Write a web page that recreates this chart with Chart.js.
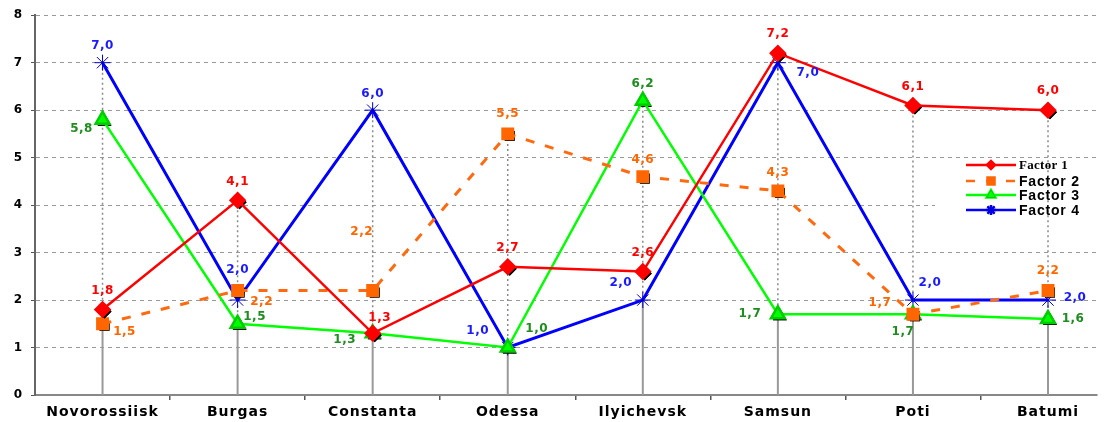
<!DOCTYPE html>
<html>
<head>
<meta charset="utf-8">
<script src="https://cdn.jsdelivr.net/npm/chart.js@4.4.1/dist/chart.umd.min.js"></script>
<style>
  body { margin: 0; background: #fff; }
  canvas { display: block; }
</style>
</head>
<body>
<canvas id="chart" width="1107" height="422"></canvas>
<script>
// datos
const categories = ["Novorossiisk", "Burgas", "Constanta", "Odessa", "Ilyichevsk", "Samsun", "Poti", "Batumi"];
const factor1 = [1.8, 4.1, 1.3, 2.7, 2.6, 7.2, 6.1, 6.0];
const factor2 = [1.5, 2.2, 2.2, 5.5, 4.6, 4.3, 1.7, 2.2];
const factor3 = [5.8, 1.5, 1.3, 1.0, 6.2, 1.7, 1.7, 1.6];
const factor4 = [7.0, 2.0, 6.0, 1.0, 2.0, 7.0, 2.0, 2.0];
const seriesNames = ["Factor 1", "Factor 2", "Factor 3", "Factor 4"];

// desplazamiento de cada etiqueta respecto a su punto (solo estilo)
const labelShift = [
  [[0,-19],[0,-18],[7,-15],[0,-19],[0,-19],[0,-19],[0,-19],[0,-19]],
  [[22,8],[24,11],[-11,-59],[0,-20],[0,-17],[0,-18],[-33,-11],[0,-20]],
  [[-21,9],[17,-7],[-28,7],[29,-19],[0,-17],[-28,0],[-10,18],[25,0]],
  [[0,-17],[0,-30],[0,-16],[-30,-17],[-22,-17],[30,10],[17,-17],[27,-2]]
];
const labelColors = ["#ff0000", "#ff6600", "#1e8c1e", "#1a1aff"];
const xMax = 7.359;
const boldFont = "'DejaVu Sans', Verdana, sans-serif";

const toPoints = arr => arr.map((v, i) => ({ x: i, y: v }));

// lineas verticales, caja de leyenda, sombras y etiquetas
const extras = {
  id: "extras",
  beforeDraw(chart) {
    chart.ctx.letterSpacing = "1px"; // texto del eje ancho como en el original
  },
  beforeDatasetsDraw(chart) {
    const ctx = chart.ctx;
    ctx.letterSpacing = "0px";
    const xs = chart.scales.x, ys = chart.scales.y;
    const all = [factor1, factor2, factor3, factor4];
    ctx.save();
    // fondo blanco de la leyenda
    ctx.fillStyle = "#fff";
    ctx.fillRect(935, 160, 172, 62);
    categories.forEach((c, i) => {
      const x = xs.getPixelForValue(i);
      const vals = all.map(a => a[i]);
      const top = Math.max(...vals), low = Math.min(...vals);
      ctx.strokeStyle = "#8a8a8a";
      ctx.lineWidth = 1.5;
      ctx.setLineDash([2, 3]);
      ctx.beginPath();
      ctx.moveTo(x, ys.getPixelForValue(top));
      ctx.lineTo(x, ys.getPixelForValue(low));
      ctx.stroke();
      ctx.setLineDash([]);
      ctx.strokeStyle = "#999";
      ctx.lineWidth = 2;
      ctx.beginPath();
      ctx.moveTo(x, ys.getPixelForValue(low));
      ctx.lineTo(x, ys.getPixelForValue(0));
      ctx.stroke();
    });
    ctx.restore();
  },
  beforeDatasetDraw(chart, args) {
    const ctx = chart.ctx;
    const ds = chart.data.datasets[args.index];
    if (args.index === 3) return;
    ctx.save();
    args.meta.data.forEach(p => {
      Chart.helpers.drawPoint(ctx, {
        pointStyle: ds.pointStyle, radius: ds.pointRadius, rotation: 0, borderWidth: 0
      }, p.x + 2, p.y + 2);
      ctx.fillStyle = "#000";
      ctx.fill();
    });
    ctx.restore();
  },
  afterDatasetsDraw(chart) {
    const ctx = chart.ctx;
    ctx.save();
    ctx.letterSpacing = "0.5px";
    ctx.font = "bold 12px " + boldFont;
    ctx.textAlign = "center";
    ctx.textBaseline = "middle";
    chart.data.datasets.forEach((ds, d) => {
      const meta = chart.getDatasetMeta(d);
      ctx.fillStyle = labelColors[d];
      meta.data.forEach((p, i) => {
        const s = labelShift[d][i];
        ctx.fillText(ds.data[i].y.toFixed(1).replace(".", ","), p.x + s[0], p.y + s[1]);
      });
    });
    // leyenda
    const rows = [165, 181, 195, 210];
    chart.data.datasets.forEach((ds, d) => {
      const y = rows[d];
      ctx.strokeStyle = ds.borderColor;
      ctx.lineWidth = 2.5;
      ctx.setLineDash(ds.borderDash || []);
      ctx.beginPath();
      ctx.moveTo(966, y);
      ctx.lineTo(1016, y);
      ctx.stroke();
      ctx.setLineDash([]);
      Chart.helpers.drawPoint(ctx, {
        pointStyle: ds.pointStyle, radius: d === 0 ? 4 : 5, rotation: 0, borderWidth: 1
      }, 991, y);
      ctx.fillStyle = ds.pointBackgroundColor;
      ctx.strokeStyle = ds.pointBorderColor;
      ctx.lineWidth = 1;
      ctx.fill();
      ctx.stroke();
      ctx.fillStyle = "#000";
      ctx.textAlign = "left";
      ctx.letterSpacing = d === 0 ? "0.3px" : "0.8px";
      ctx.font = d === 0 ? "bold 13px 'Liberation Serif', serif" : "bold 14px 'Liberation Sans', Arial, sans-serif";
      ctx.fillText(seriesNames[d], 1019, y + 1);
    });
    ctx.restore();
  }
};

new Chart(document.getElementById("chart"), {
  type: "line",
  data: {
    datasets: [
      { label: seriesNames[0], data: toPoints(factor1), borderColor: "#ff0000", borderWidth: 2.5,
        pointStyle: "rectRot", pointRadius: 7, pointBackgroundColor: "#ff0000", pointBorderColor: "#ff0000" },
      { label: seriesNames[1], data: toPoints(factor2), borderColor: "#ff6a10", borderWidth: 3, borderDash: [9, 11],
        pointStyle: "rect", pointRadius: 7, pointBackgroundColor: "#ff6600", pointBorderColor: "#ff6600" },
      { label: seriesNames[2], data: toPoints(factor3), borderColor: "#00ff00", borderWidth: 2.5,
        pointStyle: "triangle", pointRadius: 8, pointBackgroundColor: "#00ff00", pointBorderColor: "#00cc00" },
      { label: seriesNames[3], data: toPoints(factor4), borderColor: "#0000ff", borderWidth: 3,
        pointStyle: "star", pointRadius: 8, pointBackgroundColor: "#0000ff", pointBorderColor: "#0000cc", pointBorderWidth: 1 }
    ]
  },
  options: {
    responsive: false,
    animation: false,
    layout: { padding: { top: 14, left: 0, right: 0, bottom: 0 } },
    plugins: { legend: { display: false }, tooltip: { enabled: false } },
    elements: { line: { tension: 0 } },
    scales: {
      x: {
        type: "linear",
        min: -0.5,
        max: xMax,
        afterBuildTicks(scale) {
          const t = [];
          categories.forEach((c, i) => { t.push({ value: i }); if (i + 0.5 <= xMax) t.push({ value: i + 0.5 }); });
          scale.ticks = t;
        },
        afterFit(scale) { scale.height = 27; },
        ticks: {
          autoSkip: false,
          maxRotation: 0,
          padding: 4,
          color: "#000",
          font: { family: boldFont, size: 14, weight: "bold" },
          callback: v => Number.isInteger(v) ? categories[v] : ""
        },
        grid: {
          drawOnChartArea: false,
          tickLength: 5,
          color: c => (c.tick && Number.isInteger(c.tick.value)) ? "rgba(0,0,0,0)" : "#555",
          lineWidth: 1.5
        },
        border: { color: "#888", width: 2 }
      },
      y: {
        min: 0,
        max: 8,
        afterFit(scale) { scale.width = 35; },
        ticks: {
          stepSize: 1,
          padding: 8,
          color: "#000",
          font: { family: boldFont, size: 12, weight: "bold" }
        },
        grid: {
          color: "#999",
          lineWidth: 1,
          tickLength: 4,
          tickColor: "#555",
          tickBorderDash: [0, 0]
        },
        border: { color: "#666", width: 2, dash: [4, 4] }
      }
    }
  },
  plugins: [extras]
});
</script>
</body>
</html>
